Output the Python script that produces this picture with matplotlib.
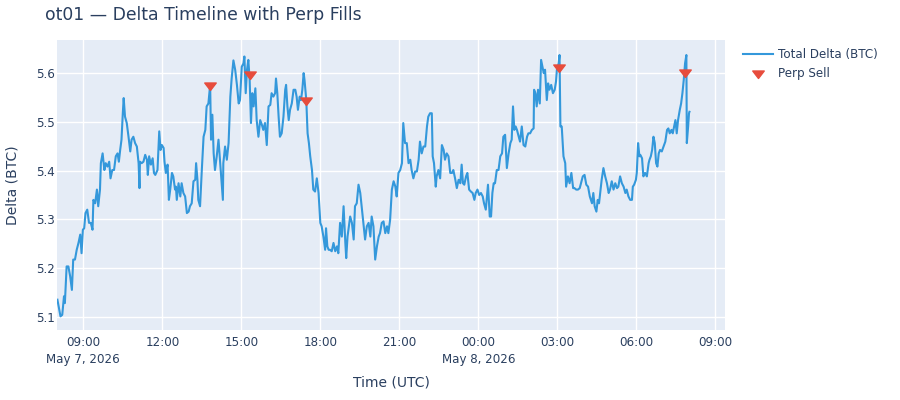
import matplotlib
matplotlib.use("Agg")
import matplotlib.pyplot as plt
import matplotlib.dates as mdates
from matplotlib.path import Path
import numpy as np
import pandas as pd

# minutes after 2026-05-07 08:00 UTC, and total delta (BTC)
minutes = [
    1, 8, 12, 16, 18, 22, 26, 30, 34, 37, 41, 45, 49, 53, 56, 59, 62, 65, 69, 73,
    77, 81, 83, 87, 91, 94, 98, 100, 104, 108, 111, 115, 119, 122, 126, 130, 134, 138, 141, 144,
    147, 150, 152, 155, 159, 163, 167, 170, 174, 178, 182, 186, 188, 189, 193, 197, 201, 205, 207, 210,
    214, 218, 221, 224, 229, 233, 236, 239, 243, 245, 248, 252, 255, 258, 262, 265, 269, 271, 273, 277,
    281, 284, 288, 292, 296, 300, 303, 307, 311, 315, 317, 320, 322, 326, 330, 334, 338, 341, 345, 349,
    351, 354, 357, 360, 364, 368, 372, 376, 378, 379, 383, 387, 391, 395, 398, 402, 406, 410, 414, 417,
    421, 425, 427, 430, 433, 436, 439, 442, 445, 448, 452, 455, 459, 463,
    467, 470, 474, 478, 482, 486, 489, 493, 497, 499, 502, 505, 508, 512, 516, 520, 522, 525, 528, 531,
    535, 539, 543, 546, 549, 553, 556, 559, 562, 564, 568, 571, 574, 577, 581, 584, 588, 592, 596, 600,
    603, 607, 611, 613, 616, 619, 622, 626, 630, 634, 638, 641, 645, 649, 653, 657, 659, 662, 665, 668,
    672, 676, 679, 683, 687, 691, 695, 698, 702, 706, 710, 714, 717, 721, 725, 729, 733, 736, 740, 744,
    748, 752, 755, 759, 763, 767, 771, 774, 778, 782,
    786, 789, 793, 797, 801, 805, 808, 812, 816, 820, 824, 827, 831, 835, 839, 843, 846, 850, 854, 856,
    859, 863, 865, 869, 873, 877, 881, 884, 888, 892, 896, 900, 903, 907, 911, 915, 919, 922, 925, 928,
    932, 935, 939, 943, 947, 951, 954, 958, 962, 966, 970, 973, 977, 979, 982, 986, 989, 992, 995, 998,
    1002, 1006, 1010, 1014, 1017, 1021, 1025, 1029, 1033, 1036, 1039, 1042, 1045, 1048, 1052, 1055, 1059, 1063, 1067, 1071,
    1074, 1078, 1082, 1086, 1087, 1090, 1093, 1096, 1100, 1103, 1106, 1109, 1112, 1116, 1119, 1122, 1126, 1130, 1134, 1137,
    1139, 1143, 1145, 1147, 1150, 1154, 1158, 1160, 1164, 1168, 1172, 1176, 1179, 1183, 1187, 1191, 1195, 1198, 1202, 1206,
    1210, 1214,
    1219, 1222, 1225, 1229, 1232, 1235, 1238, 1241, 1245, 1249, 1253, 1257, 1260, 1264, 1268, 1272, 1276, 1279, 1283, 1287,
    1291, 1295, 1298, 1302, 1306, 1310, 1312, 1315, 1319, 1321, 1324, 1327, 1329, 1333, 1336, 1340, 1344, 1348, 1350, 1353,
    1356, 1359, 1362, 1365, 1368, 1371, 1374, 1378, 1382, 1386, 1390, 1393, 1396, 1400, 1403, 1406, 1409, 1412, 1415, 1419,
    1422, 1425, 1428, 1431, 1434, 1435, 1438, 1440, 1441,
]
delta = [
    5.136, 5.102, 5.105, 5.143, 5.129, 5.204, 5.204, 5.184, 5.156, 5.218, 5.218, 5.238, 5.252, 5.269, 5.231, 5.279, 5.282, 5.313, 5.320, 5.293,
    5.293, 5.279, 5.340, 5.333, 5.361, 5.327, 5.361, 5.415, 5.435, 5.401, 5.415, 5.408, 5.418, 5.384, 5.401, 5.401, 5.429, 5.435, 5.418, 5.442,
    5.463, 5.517, 5.548, 5.510, 5.497, 5.469, 5.439, 5.463, 5.469, 5.456, 5.449, 5.415, 5.364, 5.418, 5.415, 5.418, 5.432, 5.422, 5.391, 5.429,
    5.412, 5.425, 5.395, 5.391, 5.401, 5.480, 5.442, 5.452, 5.446, 5.418, 5.395, 5.412, 5.340, 5.361, 5.395, 5.388, 5.361, 5.367, 5.340, 5.374,
    5.347, 5.374, 5.354, 5.347, 5.313, 5.316, 5.327, 5.333, 5.378, 5.381, 5.415, 5.381, 5.340, 5.327, 5.401, 5.469, 5.483, 5.531, 5.537, 5.575,
    5.463, 5.514, 5.435, 5.401, 5.429, 5.463, 5.415, 5.367, 5.340, 5.415, 5.449, 5.422, 5.456, 5.551, 5.588, 5.625, 5.606, 5.575, 5.537, 5.544,
    5.612, 5.619, 5.633, 5.558, 5.606, 5.626, 5.585, 5.497, 5.558, 5.531, 5.568, 5.503, 5.469, 5.503,
    5.493, 5.483, 5.497, 5.452, 5.531, 5.534, 5.558, 5.551, 5.558, 5.588, 5.558, 5.510, 5.469, 5.476, 5.510, 5.565, 5.575, 5.531, 5.503, 5.524,
    5.537, 5.565, 5.565, 5.551, 5.524, 5.551, 5.544, 5.565, 5.599, 5.585, 5.544, 5.476, 5.456, 5.429, 5.401, 5.361, 5.357, 5.384, 5.354, 5.293,
    5.286, 5.265, 5.238, 5.282, 5.245, 5.238, 5.238, 5.235, 5.252, 5.235, 5.245, 5.231, 5.293, 5.265, 5.327, 5.252, 5.221, 5.265, 5.286, 5.306,
    5.293, 5.259, 5.327, 5.333, 5.371, 5.354, 5.320, 5.293, 5.259, 5.286, 5.293, 5.265, 5.306, 5.286, 5.218, 5.245, 5.265, 5.272, 5.293, 5.296,
    5.272, 5.286, 5.272, 5.299, 5.361, 5.378, 5.367, 5.347, 5.395, 5.401,
    5.415, 5.497, 5.456, 5.456, 5.415, 5.422, 5.401, 5.384, 5.398, 5.398, 5.422, 5.459, 5.435, 5.449, 5.449, 5.490, 5.510, 5.517, 5.517, 5.429,
    5.415, 5.367, 5.388, 5.401, 5.384, 5.452, 5.442, 5.422, 5.435, 5.429, 5.395, 5.395, 5.401, 5.384, 5.364, 5.381, 5.374, 5.412, 5.374, 5.371,
    5.388, 5.395, 5.361, 5.357, 5.354, 5.340, 5.354, 5.361, 5.350, 5.354, 5.347, 5.333, 5.320, 5.340, 5.371, 5.306, 5.306, 5.354, 5.374, 5.374,
    5.401, 5.401, 5.429, 5.435, 5.469, 5.473, 5.405, 5.435, 5.456, 5.463, 5.531, 5.483, 5.490, 5.483, 5.469, 5.459, 5.490, 5.452, 5.449, 5.469,
    5.476, 5.476, 5.483, 5.486, 5.565, 5.558, 5.531, 5.565, 5.537, 5.626, 5.612, 5.599, 5.606, 5.544, 5.578, 5.565, 5.575, 5.558, 5.565, 5.582,
    5.606, 5.619, 5.636, 5.490, 5.490, 5.429, 5.415, 5.367, 5.388, 5.374, 5.395, 5.364, 5.364, 5.361, 5.361, 5.364, 5.378, 5.388, 5.391, 5.371,
    5.367, 5.347,
    5.333, 5.354, 5.327, 5.316, 5.340, 5.333, 5.357, 5.381, 5.405, 5.388, 5.374, 5.354, 5.361, 5.378, 5.361, 5.374, 5.364, 5.367, 5.388, 5.374,
    5.367, 5.354, 5.361, 5.347, 5.340, 5.340, 5.367, 5.371, 5.381, 5.395, 5.456, 5.429, 5.432, 5.425, 5.388, 5.395, 5.388, 5.415, 5.422, 5.429,
    5.442, 5.469, 5.456, 5.415, 5.408, 5.435, 5.442, 5.439, 5.449, 5.459, 5.483, 5.486, 5.476, 5.483, 5.476, 5.490, 5.503, 5.476, 5.503, 5.524,
    5.537, 5.558, 5.585, 5.619, 5.636, 5.456, 5.490, 5.517, 5.520,
]

# perp sell fills
fill_minutes = [349, 439, 568, 1143, 1431]
fill_delta = [5.575, 5.597, 5.545, 5.611, 5.602]

yticks = [5.1, 5.2, 5.3, 5.4, 5.5, 5.6]

start = pd.Timestamp("2026-05-07 08:00")
t = start + pd.to_timedelta(minutes, unit="m")
tf = start + pd.to_timedelta(fill_minutes, unit="m")

txt = "#2a3f5f"
plt.rcParams["font.family"] = ["DejaVu Sans"]

fig = plt.figure(figsize=(9, 4), dpi=100)
ax = fig.add_axes([57.3 / 900, 1 - 329.5 / 400, (725 - 57.3) / 900, (329.5 - 40) / 400])
ax.set_facecolor("#e5ecf6")
for s in ax.spines.values():
    s.set_visible(False)
ax.grid(True, color="white", lw=1)
ax.set_axisbelow(True)

# plotly style triangle-down
tri = Path([(-1.155, 0.5), (1.155, 0.5), (0, -1), (-1.155, 0.5)],
           [Path.MOVETO, Path.LINETO, Path.LINETO, Path.CLOSEPOLY])

ax.plot(t, delta, color="#3498db", lw=1.5, label="Total Delta (BTC)", zorder=2)
ax.plot(tf, fill_delta, ls="none", marker=tri, ms=8.3, color="#e74c3c",
        mec="#e74c3c", label="Perp Sell", zorder=3)

ax.set_xlim(start + pd.Timedelta(seconds=45), start + pd.Timedelta(minutes=1522))
ax.set_ylim(5.0751, 5.6667)
ax.set_yticks(yticks)
ax.set_yticklabels([f"{v:.1f}" for v in yticks])


def fmt(x, pos):
    d = mdates.num2date(x)
    s = d.strftime("%H:%M")
    if pos == 0 or d.hour == 0:
        s += "\n" + d.strftime("%b ") + str(d.day) + d.strftime(", %Y")
    return s


ax.xaxis.set_major_locator(mdates.HourLocator(byhour=range(0, 24, 3)))
ax.xaxis.set_major_formatter(plt.FuncFormatter(fmt))
ax.tick_params(length=0, labelsize=8.6, labelcolor=txt)
ax.tick_params(axis="x", pad=5)
ax.tick_params(axis="y", pad=2)
for lab in ax.get_xticklabels():
    lab.set_linespacing(1.35)

fig.text(45 / 900, 1 - 15 / 400, "ot01 — Delta Timeline with Perp Fills",
         fontsize=12.4, color=txt, va="center", ha="left")
fig.text(391 / 900, 1 - 382 / 400, "Time (UTC)", fontsize=10, color=txt,
         ha="center", va="center")
fig.text(13 / 900, 1 - 185 / 400, "Delta (BTC)", fontsize=10, color=txt,
         ha="center", va="center", rotation=90)

leg = fig.legend(loc="upper left", bbox_to_anchor=(743 / 900, 1 - 48 / 400),
                 frameon=False, fontsize=8.6, handlelength=2.5, handletextpad=0.45,
                 labelspacing=0.5, borderpad=0, borderaxespad=0)
for tx in leg.get_texts():
    tx.set_color(txt)

fig.savefig("out.png", dpi=100)
